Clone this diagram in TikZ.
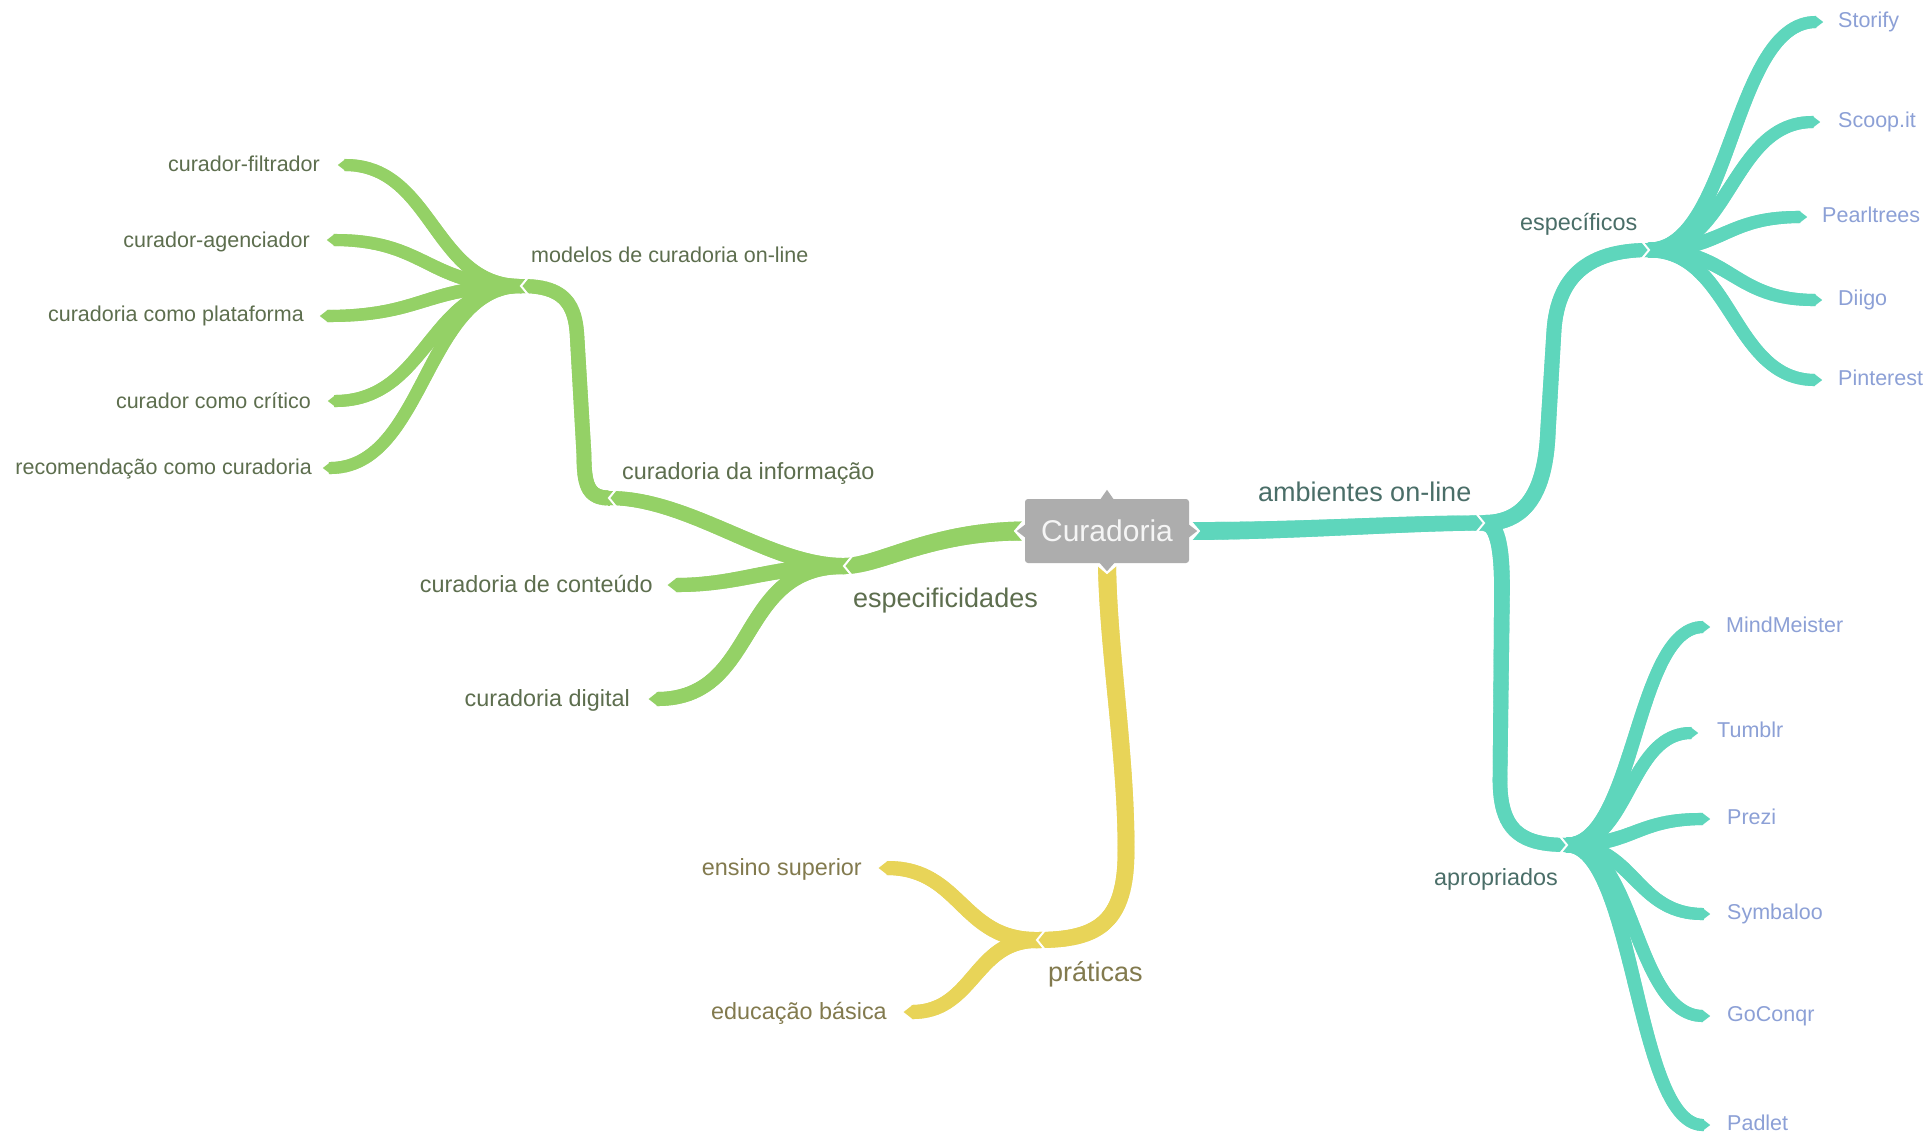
\documentclass[tikz,border=0pt]{standalone}
\usepackage{fontspec}
\setmainfont{Liberation Sans}
\usetikzlibrary{decorations.markings}
\definecolor{cgreen}{RGB}{148,209,102}
\definecolor{cteal}{RGB}{94,214,188}
\definecolor{cyellow}{RGB}{232,212,88}
\definecolor{cgray}{RGB}{173,173,173}
\definecolor{tgreen}{RGB}{93,110,78}
\definecolor{tteal}{RGB}{74,110,104}
\definecolor{tleaf}{RGB}{140,160,214}
\definecolor{tyellow}{RGB}{130,122,78}
\definecolor{troot}{RGB}{245,245,245}
\pgfdeclarelayer{paper}
\pgfdeclarelayer{bands}
\pgfdeclarelayer{gaps}
\pgfsetlayers{paper,bands,gaps,main}
% tapered band: #1 path, #2 start width, #3 end width, #4 colour
\newcommand\mmband[4]{%
  \path[decoration={markings,
      mark=between positions 0 and 1 step 1.2pt with {%
        \pgfmathsetmacro\mmbw{#2+(#3-#2)*\pgfkeysvalueof{/pgf/decoration/mark info/distance from start}/\pgfdecoratedpathlength}%
        \draw[#4, line width=\mmbw pt, line cap=butt] (-1.1pt,0pt) -- (1.1pt,0pt);}},
    decorate] #1;}
% pointed leaf tips (#1 coordinate name)
\newcommand\mmtipL[3]{\fill[#3] ([shift={(0.6,-#2/2)}]#1) -- ([shift={(-0.6*#2,0)}]#1) -- ([shift={(0.6,#2/2)}]#1) -- cycle;}
\newcommand\mmtipR[3]{\fill[#3] ([shift={(-0.6,-#2/2)}]#1) -- ([shift={(0.6*#2,0)}]#1) -- ([shift={(-0.6,#2/2)}]#1) -- cycle;}
% junction notches
\newcommand\notchL[1]{\draw[notch] ([shift={(9,-11)}]#1) -- (#1) -- ([shift={(9,11)}]#1);}
\newcommand\notchR[1]{\draw[notch] ([shift={(-9,-11)}]#1) -- (#1) -- ([shift={(-9,11)}]#1);}
\tikzset{
  notch/.style={draw=white, line width=2pt, line cap=butt, line join=miter},
  rootbox/.style={fill=cgray, rounded corners=3pt, minimum width=164pt, minimum height=64pt,
    inner sep=0pt, text=troot, font=\fontsize{30}{34}\selectfont},
  tone/.style={inner sep=0pt, text height=19.4pt, text depth=0pt, font=\fontsize{27}{31}\selectfont},
  ttwo/.style={inner sep=0pt, text height=16.8pt, text depth=0pt, font=\fontsize{23.4}{27}\selectfont},
  tthree/.style={inner sep=0pt, text height=15.5pt, text depth=0pt, font=\fontsize{21.5}{25}\selectfont},
}
\begin{document}
\begin{tikzpicture}[x=1pt,y=-1pt]
\useasboundingbox (0,0) rectangle (1928,1136);
\begin{pgfonlayer}{paper}
\fill[white] (0,0) rectangle (1928,1136);
\end{pgfonlayer}

% root
\node[rootbox] (root) at (1107,531) {Curadoria};

% junctions
\coordinate (jesp) at (844,566);
\coordinate (jinf) at (609,498);
\coordinate (jmod) at (521,286);
\coordinate (jpra) at (1037,940);
\coordinate (jamb) at (1484,523);
\coordinate (jesc) at (1649,250);
\coordinate (japr) at (1567,845);
% leaf ends
\coordinate (lcon) at (676,585);
\coordinate (ldig) at (657,699);
\coordinate (lfil) at (345,165);
\coordinate (lage) at (334,240);
\coordinate (lpla) at (327,316);
\coordinate (lcri) at (335,401);
\coordinate (lrec) at (330,468);
\coordinate (lens) at (887,868);
\coordinate (ledu) at (912,1012);
\coordinate (lsto) at (1816,22);
\coordinate (lsco) at (1813,122);
\coordinate (lpea) at (1800,217);
\coordinate (ldii) at (1815,300);
\coordinate (lpin) at (1815,380);
\coordinate (lmin) at (1703,627);
\coordinate (ltum) at (1691,733);
\coordinate (lpre) at (1703,819);
\coordinate (lsym) at (1703,914);
\coordinate (lgoc) at (1703,1016);
\coordinate (lpad) at (1703,1125);

\begin{pgfonlayer}{bands}
% green branch
\mmband{(root.west) .. controls (930,531) and (880,566) .. (jesp)}{19}{16}{cgreen}
\mmband{(jesp) .. controls (770,566) and (690,498) .. (jinf)}{16}{14}{cgreen}
\mmband{(jesp) .. controls (770,566) and (740,585) .. (lcon)}{16}{14}{cgreen}
\mmband{(jesp) .. controls (735,566) and (760,699) .. (ldig)}{16}{14}{cgreen}
\mmband{(jinf) .. controls (588,498) and (584,485) .. (584,455) -- (577,335) .. controls (575,300) and (560,286) .. (jmod)}{15}{14}{cgreen}
\mmband{(jmod) .. controls (433,286) and (433,165) .. (lfil)}{14}{12}{cgreen}
\mmband{(jmod) .. controls (427,286) and (427,240) .. (lage)}{14}{12}{cgreen}
\mmband{(jmod) .. controls (424,286) and (424,316) .. (lpla)}{14}{12}{cgreen}
\mmband{(jmod) .. controls (428,286) and (428,401) .. (lcri)}{14}{12}{cgreen}
\mmband{(jmod) .. controls (425,286) and (425,468) .. (lrec)}{14}{12}{cgreen}
\mmtipL{lcon}{14}{cgreen}
\mmtipL{ldig}{14}{cgreen}
\mmtipL{lfil}{12}{cgreen}
\mmtipL{lage}{12}{cgreen}
\mmtipL{lpla}{12}{cgreen}
\mmtipL{lcri}{12}{cgreen}
\mmtipL{lrec}{12}{cgreen}
% yellow branch
\mmband{(root.south) .. controls (1108,650) and (1127,760) .. (1126,855) .. controls (1125,925) and (1095,940) .. (jpra)}{18}{16}{cyellow}
\mmband{(jpra) .. controls (961,940) and (961,868) .. (lens)}{16}{14}{cyellow}
\mmband{(jpra) .. controls (974,940) and (974,1012) .. (ledu)}{16}{14}{cyellow}
\mmtipL{lens}{14}{cyellow}
\mmtipL{ledu}{14}{cyellow}
% teal branch
\mmband{(root.east) .. controls (1300,531) and (1400,523) .. (jamb)}{18}{15}{cteal}
\mmband{(jamb) .. controls (1530,523) and (1546,485) .. (1548,430) -- (1554,330) .. controls (1558,275) and (1590,250) .. (jesc)}{16}{14}{cteal}
\mmband{(jamb) .. controls (1498,523) and (1502,550) .. (1502,590) -- (1500,780) .. controls (1500,830) and (1520,845) .. (japr)}{16}{14}{cteal}
\mmband{(jesc) .. controls (1732,250) and (1732,22) .. (lsto)}{15}{12}{cteal}
\mmband{(jesc) .. controls (1731,250) and (1731,122) .. (lsco)}{15}{12}{cteal}
\mmband{(jesc) .. controls (1724,250) and (1724,217) .. (lpea)}{15}{12}{cteal}
\mmband{(jesc) .. controls (1732,250) and (1732,300) .. (ldii)}{15}{12}{cteal}
\mmband{(jesc) .. controls (1732,250) and (1732,380) .. (lpin)}{15}{12}{cteal}
\mmband{(japr) .. controls (1635,845) and (1635,627) .. (lmin)}{15}{12}{cteal}
\mmband{(japr) .. controls (1629,845) and (1629,733) .. (ltum)}{15}{12}{cteal}
\mmband{(japr) .. controls (1635,845) and (1635,819) .. (lpre)}{15}{12}{cteal}
\mmband{(japr) .. controls (1635,845) and (1635,914) .. (lsym)}{15}{12}{cteal}
\mmband{(japr) .. controls (1635,845) and (1635,1016) .. (lgoc)}{15}{12}{cteal}
\mmband{(japr) .. controls (1635,845) and (1635,1125) .. (lpad)}{15}{12}{cteal}
\mmtipR{lsto}{12}{cteal}
\mmtipR{lsco}{12}{cteal}
\mmtipR{lpea}{12}{cteal}
\mmtipR{ldii}{12}{cteal}
\mmtipR{lpin}{12}{cteal}
\mmtipR{lmin}{12}{cteal}
\mmtipR{ltum}{12}{cteal}
\mmtipR{lpre}{12}{cteal}
\mmtipR{lsym}{12}{cteal}
\mmtipR{lgoc}{12}{cteal}
\mmtipR{lpad}{12}{cteal}
\end{pgfonlayer}

\begin{pgfonlayer}{gaps}
\notchL{jesp}
\notchL{jinf}
\notchL{jmod}
\notchL{jpra}
\notchR{jamb}
\notchR{jesc}
\notchR{japr}
\fill[white] ([xshift=-11pt]root.west) -- ([shift={(1,-14)}]root.west) -- ([shift={(1,14)}]root.west) -- cycle;
\fill[white] ([xshift=11pt]root.east) -- ([shift={(-1,-14)}]root.east) -- ([shift={(-1,14)}]root.east) -- cycle;
\fill[white] ([yshift=-11pt]root.south) -- ([shift={(-14,-1)}]root.south) -- ([shift={(14,-1)}]root.south) -- cycle;
\end{pgfonlayer}

% root ports
\fill[cgray] ([shift={(-7,1)}]root.north) -- ([yshift=9pt]root.north) -- ([shift={(7,1)}]root.north) -- cycle;
\fill[cgray] ([shift={(-8,-1)}]root.south) -- ([yshift=-8pt]root.south) -- ([shift={(8,-1)}]root.south) -- cycle;
\fill[cgray] ([shift={(1,-7)}]root.west) -- ([xshift=-8pt]root.west) -- ([shift={(1,7)}]root.west) -- cycle;
\fill[cgray] ([shift={(-1,-7)}]root.east) -- ([xshift=8pt]root.east) -- ([shift={(-1,7)}]root.east) -- cycle;

% labels: level 1
\node[tone, text=tgreen, anchor=west] (tesp) at (853,598) {especificidades};
\node[tone, text=tteal, anchor=west] (tamb) at (1258,492) {ambientes on-line};
\node[tone, text=tyellow, anchor=west] (tpra) at (1048,972) {práticas};
% level 2
\node[ttwo, text=tgreen, anchor=west] (tinf) at (622,471) {curadoria da informação};
\node[ttwo, text=tgreen, anchor=east] (tcon) at (653,584) {curadoria de conteúdo};
\node[ttwo, text=tgreen, anchor=east] (tdig) at (630,698) {curadoria digital};
\node[ttwo, text=tteal, anchor=west] (tesc) at (1520,222) {específicos};
\node[ttwo, text=tteal, anchor=west] (tapr) at (1434,877) {apropriados};
\node[ttwo, text=tyellow, anchor=east] (tens) at (862,867) {ensino superior};
\node[ttwo, text=tyellow, anchor=east] (tedu) at (887,1011) {educação básica};
% level 3
\node[tthree, text=tgreen, anchor=west] (tmod) at (531,255) {modelos de curadoria on-line};
\node[tthree, text=tgreen, anchor=east] (tfil) at (320,164) {curador-filtrador};
\node[tthree, text=tgreen, anchor=east] (tage) at (310,240) {curador-agenciador};
\node[tthree, text=tgreen, anchor=east] (tpla) at (304,314) {curadoria como plataforma};
\node[tthree, text=tgreen, anchor=east] (tcri) at (311,401) {curador como crítico};
\node[tthree, text=tgreen, anchor=east] (trec) at (312,467) {recomendação como curadoria};
\node[tthree, text=tleaf, anchor=west] (tsto) at (1838,20) {Storify};
\node[tthree, text=tleaf, anchor=west] (tsco) at (1838,120) {Scoop.it};
\node[tthree, text=tleaf, anchor=west] (tpea) at (1822,215) {Pearltrees};
\node[tthree, text=tleaf, anchor=west] (tdii) at (1838,298) {Diigo};
\node[tthree, text=tleaf, anchor=west] (tpin) at (1838,378) {Pinterest};
\node[tthree, text=tleaf, anchor=west] (tmin) at (1726,625) {MindMeister};
\node[tthree, text=tleaf, anchor=west] (ttum) at (1717,730) {Tumblr};
\node[tthree, text=tleaf, anchor=west] (tpre) at (1727,817) {Prezi};
\node[tthree, text=tleaf, anchor=west] (tsym) at (1727,912) {Symbaloo};
\node[tthree, text=tleaf, anchor=west] (tgoc) at (1727,1014) {GoConqr};
\node[tthree, text=tleaf, anchor=west] (tpad) at (1727,1123) {Padlet};
\end{tikzpicture}
\end{document}
